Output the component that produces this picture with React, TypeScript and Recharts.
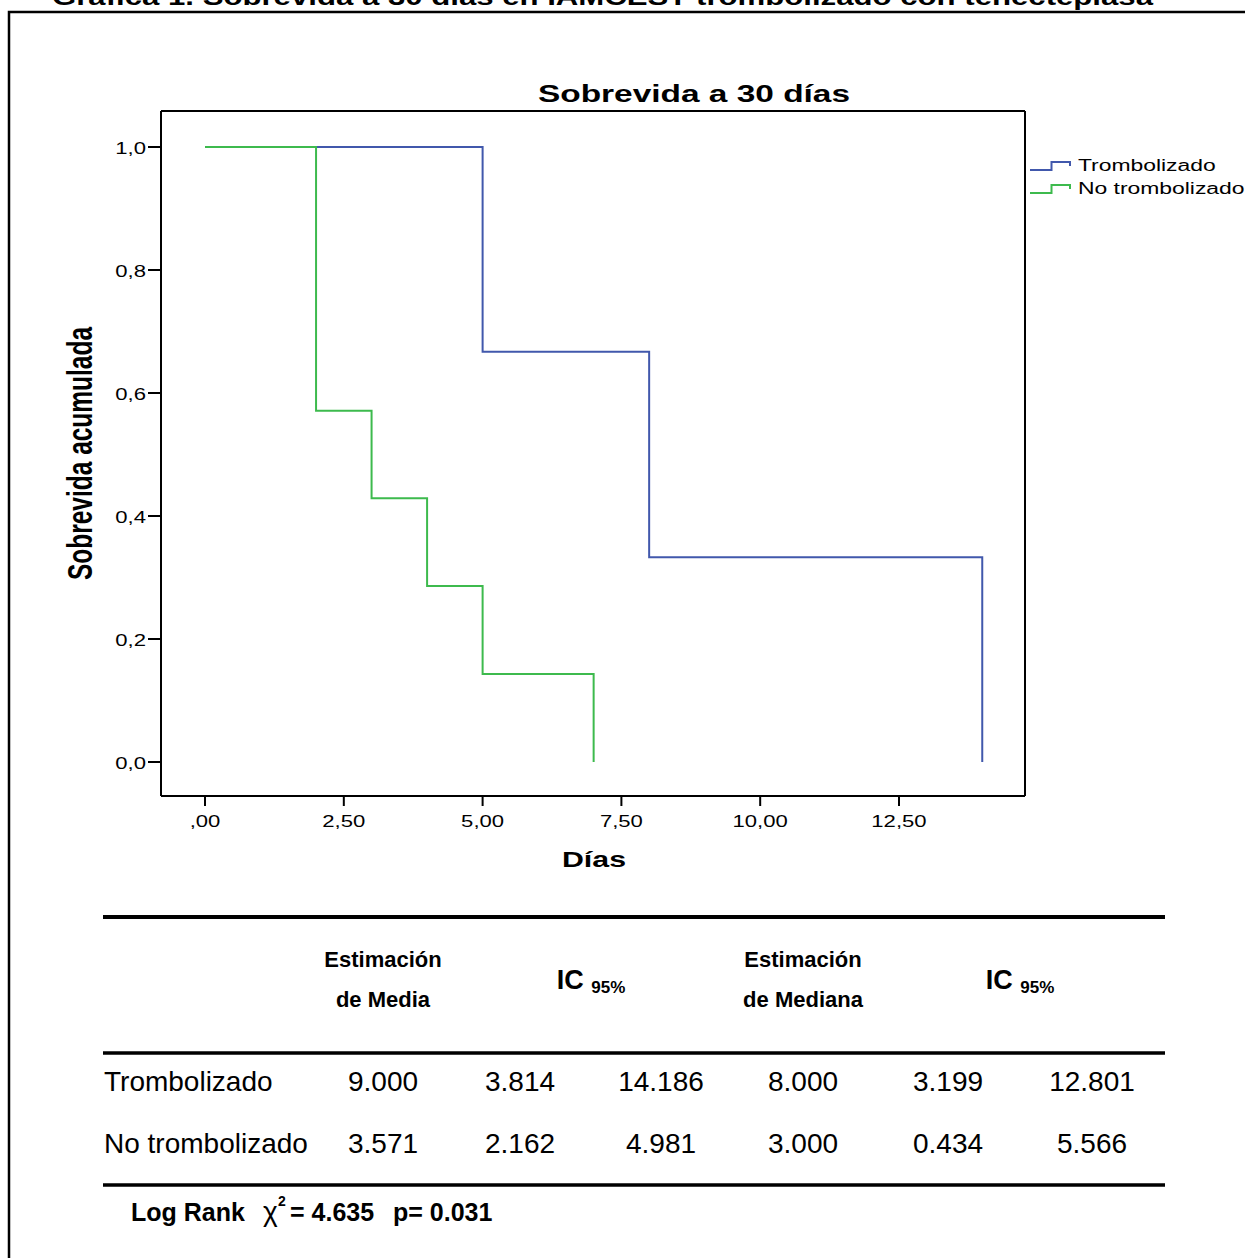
import { LineChart, Line, XAxis, YAxis, ReferenceLine } from 'recharts';

const pageTitle = 'Gráfica 1. Sobrevida a 30 días en IAMCEST trombolizado con tenecteplasa';
const chartTitle = 'Sobrevida a 30 días';
const xLabel = 'Días';
const yLabel = 'Sobrevida acumulada';

const seriesNames = ['Trombolizado', 'No trombolizado'];
const seriesColors = ['#4158AC', '#3DBA4D'];

// tiempos (días) y sobrevida acumulada de cada grupo
const tromboTimes = [0, 5, 8, 14];
const tromboSurv = [1, 0.667, 0.333, 0];
const noTromboTimes = [0, 2, 3, 4, 5, 7];
const noTromboSurv = [1, 0.571, 0.429, 0.286, 0.143, 0];

const xTicks = [0, 2.5, 5, 7.5, 10, 12.5];
const xTickLabels = [',00', '2,50', '5,00', '7,50', '10,00', '12,50'];
const yTicks = [0, 0.2, 0.4, 0.6, 0.8, 1];
const yTickLabels = ['0,0', '0,2', '0,4', '0,6', '0,8', '1,0'];

const xDomain = [-0.793, 14.77];
const yDomain = [-0.0553, 1.0585];

// tabla
const tableRows = ['Trombolizado', 'No trombolizado'];
const meanEst = ['9.000', '3.571'];
const meanLow = ['3.814', '2.162'];
const meanHigh = ['14.186', '4.981'];
const medianEst = ['8.000', '3.000'];
const medianLow = ['3.199', '0.434'];
const medianHigh = ['12.801', '5.566'];
const logRankChi = '4.635';
const logRankP = '0.031';

const FONT = '"Liberation Sans", Arial, sans-serif';
const STRETCH = 1.3;

const tromboData = tromboTimes.map((t, i) => ({ t, s: tromboSurv[i] }));
const noTromboData = noTromboTimes.map((t, i) => ({ t, s: noTromboSurv[i] }));

const XTick = (props: any) => {
  const { x, y, payload } = props;
  const i = xTicks.indexOf(payload.value);
  return (
    <text transform={`translate(${x},${y + 19}) scale(${STRETCH},1)`} textAnchor="middle" fontSize={17} fontFamily={FONT} fill="#000">
      {xTickLabels[i]}
    </text>
  );
};

const YTick = (props: any) => {
  const { x, y, payload } = props;
  const i = yTicks.findIndex((v) => Math.abs(v - payload.value) < 1e-6);
  return (
    <text transform={`translate(${x},${y + 7}) scale(${STRETCH},1)`} textAnchor="end" fontSize={17} fontFamily={FONT} fill="#000">
      {yTickLabels[i]}
    </text>
  );
};

const colCenters = [383, 520, 661, 803, 948, 1092];

const Overlay = () => {
  const rowBase = [1091, 1153];
  return (
    <svg width={1245} height={1258} style={{ position: 'absolute', left: 0, top: 0, pointerEvents: 'none' }} fontFamily={FONT}>
      <text x={52} y={5} fontSize={24} fontWeight="bold" textLength={1101} lengthAdjust="spacingAndGlyphs">{pageTitle}</text>
      <path d="M9 1260 V12 H1250" fill="none" stroke="#000" strokeWidth={2.5} />

      <text x={694} y={102} fontSize={24} fontWeight="bold" textAnchor="middle" textLength={312} lengthAdjust="spacingAndGlyphs">{chartTitle}</text>
      <text x={594} y={867} fontSize={22} fontWeight="bold" textAnchor="middle" textLength={64} lengthAdjust="spacingAndGlyphs">{xLabel}</text>
      <text transform="translate(92,453.5) scale(1.43,1) rotate(-90)" fontSize={24.4} fontWeight="bold" textAnchor="middle" textLength={253} lengthAdjust="spacingAndGlyphs">{yLabel}</text>

      {seriesNames.map((name, i) => {
        const low = 170 + i * 23;
        const high = low - 8;
        return (
          <g key={name}>
            <path d={`M1030 ${low} H1051.5 V${high} H1070 V${high + 4}`} fill="none" stroke={seriesColors[i]} strokeWidth={2} />
            <text transform={`translate(1078,${low + 1}) scale(1.43,1)`} fontSize={16}>{name}</text>
          </g>
        );
      })}

      <line x1={103} x2={1165} y1={917} y2={917} stroke="#000" strokeWidth={4} />
      <line x1={103} x2={1165} y1={1053} y2={1053} stroke="#000" strokeWidth={3.5} />
      <line x1={103} x2={1165} y1={1185} y2={1185} stroke="#000" strokeWidth={3.5} />

      <g fontSize={22} fontWeight="bold" textAnchor="middle">
        <text x={383} y={967}>Estimación</text>
        <text x={383} y={1007}>de Media</text>
        <text x={803} y={967}>Estimación</text>
        <text x={803} y={1007}>de Mediana</text>
      </g>
      {[591, 1020].map((cx) => (
        <text key={cx} x={cx} y={989} fontWeight="bold" textAnchor="middle">
          <tspan fontSize={27}>IC </tspan>
          <tspan fontSize={17} dy={4}>95%</tspan>
        </text>
      ))}

      {tableRows.map((name, r) => {
        const vals = [meanEst[r], meanLow[r], meanHigh[r], medianEst[r], medianLow[r], medianHigh[r]];
        return (
          <g key={name} fontSize={28}>
            <text x={104} y={rowBase[r]}>{name}</text>
            {vals.map((v, c) => (
              <text key={c} x={colCenters[c]} y={rowBase[r]} textAnchor="middle">{v}</text>
            ))}
          </g>
        );
      })}

      <g fontWeight="bold" fontSize={25}>
        <text x={131} y={1221}>Log Rank</text>
        <text x={263} y={1221} fontWeight="normal" fontSize={28}>χ</text>
        <text x={278} y={1206} fontSize={14}>2</text>
        <text x={290} y={1221}>{`= ${logRankChi}`}</text>
        <text x={393} y={1221}>{`p= ${logRankP}`}</text>
      </g>
    </svg>
  );
};

export default function App() {
  return (
    <div style={{ position: 'absolute', left: 0, top: 0, width: 1245, height: 1258, overflow: 'hidden', background: '#fff' }}>
      <LineChart width={1245} height={900} margin={{ top: 111, right: 220, bottom: 44, left: 101 }}>
        <XAxis
          type="number"
          dataKey="t"
          domain={xDomain}
          ticks={xTicks}
          allowDataOverflow
          height={60}
          tickSize={10}
          axisLine={{ stroke: '#000', strokeWidth: 2 }}
          tickLine={{ stroke: '#000', strokeWidth: 2 }}
          tick={(p: any) => <XTick {...p} />}
        />
        <YAxis
          type="number"
          dataKey="s"
          domain={yDomain}
          ticks={yTicks}
          allowDataOverflow
          width={60}
          tickSize={13}
          axisLine={{ stroke: '#000', strokeWidth: 2 }}
          tickLine={{ stroke: '#000', strokeWidth: 2 }}
          tick={(p: any) => <YTick {...p} />}
        />
        <ReferenceLine x={xDomain[1]} stroke="#000" strokeWidth={2} />
        <ReferenceLine y={yDomain[1]} stroke="#000" strokeWidth={2} />
        <Line
          data={tromboData}
          dataKey="s"
          name={seriesNames[0]}
          type="stepAfter"
          stroke={seriesColors[0]}
          strokeWidth={2}
          dot={false}
          isAnimationActive={false}
        />
        <Line
          data={noTromboData}
          dataKey="s"
          name={seriesNames[1]}
          type="stepAfter"
          stroke={seriesColors[1]}
          strokeWidth={2}
          dot={false}
          isAnimationActive={false}
        />
      </LineChart>
      <Overlay />
    </div>
  );
}
